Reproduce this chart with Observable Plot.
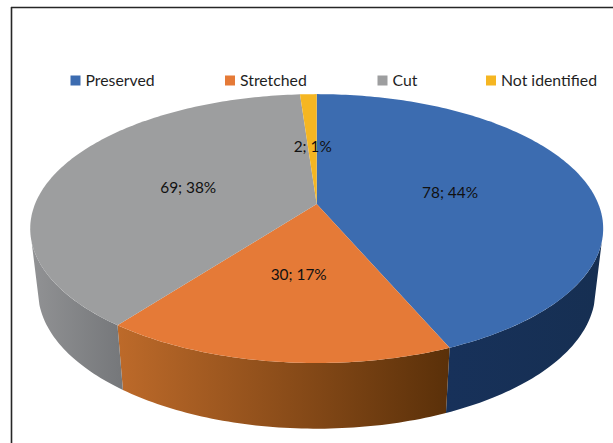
<!DOCTYPE html>
<html>
<head>
<meta charset="utf-8">
<script src="https://cdn.jsdelivr.net/npm/d3@7"></script>
<script src="https://cdn.jsdelivr.net/npm/@observablehq/plot@0.6"></script>
<style>
  html, body { margin: 0; padding: 0; background: #fff; }
  svg { display: block; }
</style>
</head>
<body>
<script>
const categories = ["Preserved", "Stretched", "Cut", "Not identified"];
const counts = [78, 30, 69, 2];
const percents = [44, 17, 38, 1];
const topColors = ["#3c6cb0", "#e57a37", "#9d9e9f", "#f5b622"];

// Pie seen in perspective: a point on the unit disc (u, v), v towards the viewer,
// lands at centre + radius * (u, v) / (1 - tilt * v).
const tilt = 0.182;
const topFace = {cx: 316.2, cy: 203.6, rx: 281.7, ry: 130};
const baseFace = {cx: 316.2, cy: 265.6, rx: 274, ry: 133};
const rimAngle = 254; // where the side wall meets the silhouette, degrees clockwise from 12 o'clock

function project(face, deg, r = 1) {
  const a = deg * Math.PI / 180;
  const u = r * Math.sin(a), v = -r * Math.cos(a);
  const w = 1 - tilt * v;
  return {x: face.cx + face.rx * u / w, y: face.cy + face.ry * v / w};
}

function arc(face, from, to) {
  const n = Math.max(2, Math.ceil(Math.abs(to - from)));
  return d3.range(n + 1).map((i) => project(face, from + (to - from) * i / n));
}

const total = d3.sum(counts);
const ends = d3.cumsum(counts).map((c) => c / total * 360);
const slices = categories.map((name, i) => ({
  name,
  count: counts[i],
  percent: percents[i],
  start: i ? ends[i - 1] : 0,
  end: ends[i]
}));

// Top faces: wedge from the apex round the rim.
const faceRows = slices.flatMap((s) =>
  [project(topFace, 0, 0), ...arc(topFace, s.start, s.end)].map((p) => ({...p, name: s.name}))
);

// Side walls: the visible part of the rim, down to the base rim and back.
function wall(name, from, to) {
  return [...arc(topFace, from, to), ...arc(baseFace, to, from)].map((p) => ({...p, name}));
}
const walls = [
  {rows: wall("Preserved", slices[0].end, 360 - rimAngle), fill: "url(#wall-blue)"},
  {rows: wall("Stretched", slices[1].start, slices[1].end), fill: "url(#wall-orange)"},
  {rows: wall("Cut", slices[2].start, rimAngle), fill: "url(#wall-gray)"}
];

function stop(offset, color) {
  const s = document.createElementNS("http://www.w3.org/2000/svg", "stop");
  s.setAttribute("offset", offset);
  s.setAttribute("stop-color", color);
  return s;
}
function gradients() {
  const ns = "http://www.w3.org/2000/svg";
  const defs = document.createElementNS(ns, "defs");
  const specs = {
    "wall-blue": ["#17315a", "#162f52"],
    "wall-orange": ["#bd6a2a", "#5a3009"],
    "wall-gray": ["#919294", "#75777a"]
  };
  for (const [id, [a, b]] of Object.entries(specs)) {
    const g = document.createElementNS(ns, "linearGradient");
    g.setAttribute("id", id);
    g.append(stop("0%", a), stop("100%", b));
    defs.append(g);
  }
  return defs;
}

const legend = [
  {name: "Preserved", x: 70.5},
  {name: "Stretched", x: 225},
  {name: "Cut", x: 377.5},
  {name: "Not identified", x: 486}
];

const labels = slices.map((s) => ({
  ...project(topFace, (s.start + s.end) / 2, 0.49),
  text: `${s.count}; ${s.percent}%`
}));

const font = "Lato, 'Open Sans', sans-serif";

const chart = Plot.plot({
  width: 613,
  height: 443,
  margin: 0,
  x: {domain: [0, 613], range: [0, 613], axis: null},
  y: {domain: [0, 443], range: [0, 443], axis: null},
  color: {domain: categories, range: topColors},
  style: {background: "#fff"},
  marks: [
    gradients,
    // outer frame
    Plot.ruleY([7], {x1: 11, x2: 613, stroke: "#262626", strokeWidth: 1.6}),
    Plot.ruleX([11], {y1: 7, y2: 443, stroke: "#262626", strokeWidth: 1.6}),
    ...walls.map((w) => Plot.line(w.rows, {x: "x", y: "y", fill: w.fill, stroke: "none", curve: "linear"})),
    Plot.line(faceRows, {x: "x", y: "y", z: "name", fill: "name", stroke: "none", curve: "linear"}),
    Plot.text(labels, {x: "x", y: "y", dx: 0.5, dy: 1.5, text: "text", fontSize: 15.4, fontFamily: font, fill: "#111"}),
    Plot.rect(legend, {
      x1: "x",
      x2: (d) => d.x + 10,
      y1: () => 75.5,
      y2: () => 85.5,
      fill: "name"
    }),
    Plot.text(legend, {
      x: (d) => d.x + 14.5,
      y: () => 80.5,
      text: "name",
      textAnchor: "start",
      fontSize: 15.8,
      fontFamily: font,
      fill: "#1f1f1f"
    })
  ]
});
document.body.append(chart);
</script>
</body>
</html>
